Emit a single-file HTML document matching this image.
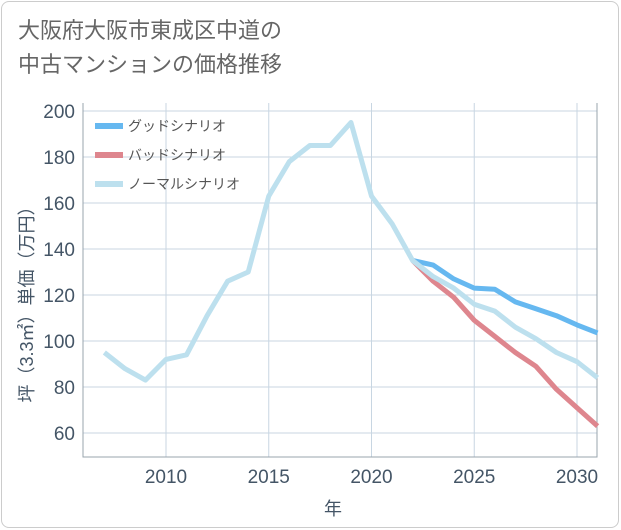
<!DOCTYPE html>
<html><head><meta charset="utf-8"><style>
body{margin:0;background:#fff;font-family:"Liberation Sans","Noto Sans CJK JP",sans-serif}
#wrap{position:relative;width:621px;height:530px}
#frame{position:absolute;left:1px;top:1px;width:616px;height:525px;border:1px solid #ccc;border-radius:8px}
h1{position:absolute;left:18px;top:14px;margin:0;font-weight:normal;font-size:22px;line-height:34px;color:#666}
</style></head><body>
<div id="wrap">
<div id="frame"></div>
<h1>大阪府大阪市東成区中道の<br>中古マンションの価格推移</h1>
<svg id="svg" width="621" height="530" style="position:absolute;left:0;top:0"></svg>
</div>
<script>
const years=[2007,2008,2009,2010,2011,2012,2013,2014,2015,2016,2017,2018,2019,2020,2021,2022,2023,2024,2025,2026,2027,2028,2029,2030,2031];
const normal=[95,88,83,92,94,111,126,130,163,178,185,185,195,163,151,135,128,123,116,113,106,101,95,91,84];
const futYears=[2022,2023,2024,2025,2026,2027,2028,2029,2030,2031];
const good=[135,133,127,123,122.5,117,114,111,107,103.5];
const bad=[135,126,119,109,102,95,89,79,71,63];
const yTicks=[60,80,100,120,140,160,180,200];
const xTicks=[2010,2015,2020,2025,2030];
const L=83,R=597,T=103,B=457;
const x=v=>166+(v-2010)*20.55;
const y=v=>111+(200-v)*2.3;
const svg=document.getElementById('svg');const NS='http://www.w3.org/2000/svg';
function mk(t,a,p){const e=document.createElementNS(NS,t);for(const k in a)e.setAttribute(k,a[k]);(p||svg).appendChild(e);return e;}
yTicks.forEach(v=>{const l=mk('line',{x1:L,x2:R,y1:y(v),y2:y(v),stroke:'#c8d6e2','stroke-width':1});


const t=mk('text',{x:L-8,y:y(v)+7,'text-anchor':'end','font-size':19,fill:'#456'});t.textContent=v;

});
xTicks.forEach(v=>{const l=mk('line',{x1:x(v),x2:x(v),y1:T,y2:B,stroke:'#c8d6e2','stroke-width':1});


const t=mk('text',{x:x(v),y:B+26,'text-anchor':'middle','font-size':19,fill:'#456'});t.textContent=v;

});
const ax=mk('path',{d:`M${L},${T}V${B}H${R}V${T}`,fill:'none',stroke:'#99a4ae','stroke-width':1});


function line(xs,vs,c,n){const p=mk('polyline',{points:xs.map((a,i)=>x(a)+','+y(vs[i])).join(' '),fill:'none',stroke:c,'stroke-width':5,'stroke-linejoin':'round'});

}
line(futYears,good,'#66b8f0','good-scenario-line');
line(futYears,bad,'#de868e','bad-scenario-line');
line(years,normal,'#bde0ee','normal-scenario-line');
[['グッドシナリオ','#66b8f0'],['バッドシナリオ','#de868e'],['ノーマルシナリオ','#bde0ee']].forEach((d,i)=>{const yy=126+i*29;
const s=mk('line',{x1:95,x2:123,y1:yy,y2:yy,stroke:d[1],'stroke-width':6});


const t=mk('text',{x:128,y:yy+5,'font-size':14,fill:'#555'});t.textContent=d[0];

});
const yt=mk('text',{x:0,y:0,transform:'translate(33,300) rotate(-90)','text-anchor':'middle','font-size':18,fill:'#456'});yt.textContent='坪（3.3㎡）単価（万円）';


const xt=mk('text',{x:333,y:515,'text-anchor':'middle','font-size':18,fill:'#456'});xt.textContent='年';


</script>
</body></html>
